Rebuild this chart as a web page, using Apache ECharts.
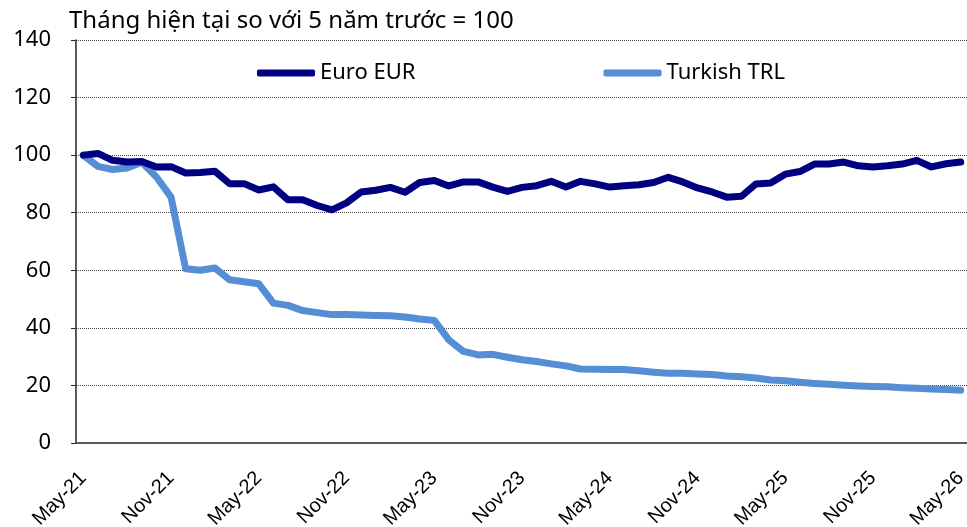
<!DOCTYPE html>
<html>
<head>
<meta charset="utf-8">
<script src="https://cdn.jsdelivr.net/npm/echarts@6/dist/echarts.min.js"></script>
<style>
  html, body { margin: 0; padding: 0; background: #fff; }
  #chart { width: 967px; height: 527px; }
</style>
</head>
<body>
<div id="chart"></div>
<script>
// months May-21 .. May-26
var months = ['May-21','Jun-21','Jul-21','Aug-21','Sep-21','Oct-21','Nov-21','Dec-21','Jan-22','Feb-22','Mar-22','Apr-22',
  'May-22','Jun-22','Jul-22','Aug-22','Sep-22','Oct-22','Nov-22','Dec-22','Jan-23','Feb-23','Mar-23','Apr-23',
  'May-23','Jun-23','Jul-23','Aug-23','Sep-23','Oct-23','Nov-23','Dec-23','Jan-24','Feb-24','Mar-24','Apr-24',
  'May-24','Jun-24','Jul-24','Aug-24','Sep-24','Oct-24','Nov-24','Dec-24','Jan-25','Feb-25','Mar-25','Apr-25',
  'May-25','Jun-25','Jul-25','Aug-25','Sep-25','Oct-25','Nov-25','Dec-25','Jan-26','Feb-26','Mar-26','Apr-26',
  'May-26'];

var euro = [100, 100.6, 98.2, 97.6, 97.8, 95.9, 96.0, 93.8, 94.0, 94.4, 90.1, 90.1,
  87.9, 89.0, 84.5, 84.5, 82.5, 81.0, 83.4, 87.2, 87.8, 88.8, 87.1, 90.5,
  91.2, 89.3, 90.7, 90.7, 88.9, 87.4, 88.8, 89.4, 90.9, 88.9, 90.9, 90.0,
  88.9, 89.4, 89.7, 90.5, 92.3, 90.7, 88.6, 87.2, 85.4, 85.7, 90.0, 90.3,
  93.4, 94.3, 96.9, 96.9, 97.6, 96.3, 95.9, 96.3, 96.9, 98.2, 95.9, 97.0,
  97.6];

var trl = [100, 96.1, 95.0, 95.5, 97.5, 92.4, 85.4, 60.5, 60.0, 60.8, 56.7, 56.0,
  55.3, 48.6, 47.8, 46.0, 45.3, 44.6, 44.6, 44.5, 44.3, 44.2, 43.8, 43.1,
  42.6, 35.8, 31.8, 30.6, 30.8, 29.8, 28.9, 28.3, 27.5, 26.8, 25.7, 25.6,
  25.5, 25.5, 25.1, 24.6, 24.2, 24.2, 24.0, 23.8, 23.3, 23.0, 22.6, 21.9,
  21.6, 21.1, 20.7, 20.4, 20.1, 19.8, 19.6, 19.5, 19.2, 19.0, 18.8, 18.6,
  18.3];

var seriesNames = ['Euro EUR', 'Turkish TRL'];
var seriesColors = ['#000080', '#558ED5'];
var subtitle = 'Tháng hiện tại so với 5 năm trước = 100';

var font = '"Noto Sans", Arial, sans-serif';

var chart = echarts.init(document.getElementById('chart'));

var option = {
  animation: false,
  backgroundColor: '#fff',
  title: {
    text: subtitle,
    left: 64,
    top: 4,
    textStyle: { fontFamily: font, fontSize: 24, fontWeight: 'normal', color: '#000' }
  },
  legend: {
    data: seriesNames,
    left: 252,
    top: 57,
    itemWidth: 58,
    itemHeight: 7,
    itemGap: 188,
    icon: 'roundRect',
    textStyle: { fontFamily: font, fontSize: 22, color: '#000' }
  },
  grid: { left: 76, right: -1, top: 40, bottom: 84, containLabel: false, outerBoundsMode: 'none' },
  xAxis: {
    type: 'category',
    data: months,
    boundaryGap: true,
    axisLine: { lineStyle: { color: '#595959', width: 2 } },
    axisTick: { interval: 5, length: 6, lineStyle: { color: '#595959', width: 1 } },
    axisLabel: {
      interval: 5,
      rotate: 45,
      margin: 32,
      hideOverlap: false,
      fontFamily: 'Arial, "Liberation Sans", sans-serif',
      fontSize: 20,
      color: '#000'
    },
    splitLine: { show: false }
  },
  yAxis: {
    type: 'value',
    min: 0,
    max: 140,
    interval: 20,
    axisLine: { show: true, lineStyle: { color: '#222', width: 1.5 } },
    axisTick: { show: true, inside: false, length: 5, lineStyle: { color: '#222' } },
    axisLabel: { margin: 25, fontFamily: font, fontSize: 22, color: '#000' },
    splitLine: { lineStyle: { type: 'dotted', color: '#444', width: 1 } }
  },
  series: seriesNames.map(function (name, k) {
    return {
      name: name,
      type: 'line',
      data: k === 0 ? euro : trl,
      symbol: 'none',
      smooth: false,
      color: seriesColors[k],
      lineStyle: { width: 7, color: seriesColors[k], cap: 'round', join: 'round' },
      z: k === 0 ? 3 : 2
    };
  })
};

chart.setOption(option);
</script>
</body>
</html>
